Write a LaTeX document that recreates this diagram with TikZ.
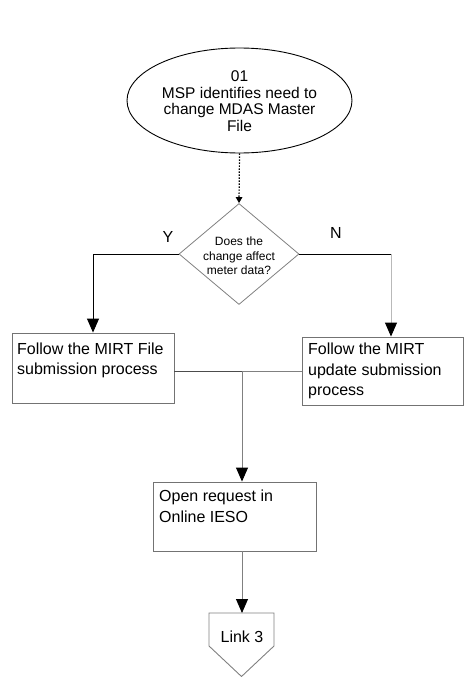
\documentclass[tikz,border=0pt]{standalone}
\usepackage{fontspec}
\setmainfont{Liberation Sans}
\usetikzlibrary{shapes.geometric,arrows.meta}
\begin{document}
\begin{tikzpicture}[x=1pt,y=-1pt,
  line/.style={line width=0.9pt},
  arr/.style={line, -{Triangle[length=14pt,width=12pt,black]}},
  procbox/.style={draw=black!55, line width=0.9pt, inner sep=0pt},
  boxtext/.style={font=\fontsize{16}{20.5}\selectfont, align=left, inner sep=0pt, anchor=base west},
  lbl/.style={font=\fontsize{16}{18}\selectfont, inner sep=0pt}
]
\useasboundingbox (0,0) rectangle (463,677);

% start ellipse
\node[draw, ellipse, line width=0.9pt, minimum width=225pt, minimum height=105pt, inner sep=0pt] (ell) at (239.5,100.5) {};
\node[align=center, font=\fontsize{15.5}{16.6}\selectfont, inner sep=0pt] (elltext) at (239.5,101) {01\\MSP identifies need to\\change MDAS Master\\File};

% decision
\node[diamond, draw=gray, line width=0.8pt, minimum width=120pt, minimum height=101pt, inner sep=0pt] (dia) at (239,254) {};
\node[align=center, font=\fontsize{12}{14.5}\selectfont, inner sep=0pt] (diatext) at (239,256) {Does the\\change affect\\meter data?};

\draw[line width=1.2pt, dash pattern=on 1.5pt off 1.5pt, -{Triangle[length=6pt,width=6.5pt]}] (ell.south) -- (dia.north);

% process boxes
\node[procbox, minimum width=162pt, minimum height=70pt] (lbox) at (93,368) {};
\node[boxtext] (ltext) at (17,374.5) {Follow the MIRT File\\submission process};

\node[procbox, minimum width=161.5pt, minimum height=68pt] (rbox) at (382.8,371) {};
\node[boxtext] (rtext) at (308,395.5) {Follow the MIRT\\update submission\\process};

\node[procbox, minimum width=163pt, minimum height=69pt] (open) at (234.5,516.5) {};
\node[boxtext] (otext) at (159,522) {Open request in\\Online IESO};

% labels
\node[lbl] (ylab) at (168,237) {Y};
\node[lbl] (nlab) at (336,233) {N};

% branches
\draw[arr] (dia.west) -| (lbox.north);
\coordinate (nc) at (391,254);
\draw[line] (dia.east) -- (nc);
\draw[arr, draw=gray!55] (nc) -- (nc |- rbox.north);

% junction
\coordinate (j) at (242,371);
\draw[line, draw=black!70] (lbox.east |- j) -- (j);
\draw[line, draw=gray] (j) -- (rbox.west |- j);
\draw[arr, draw=gray] (j) -- (j |- open.north);

% off-page connector
\coordinate (linktop) at (242,613);
\draw[line, draw=gray] (209,613) -- (274,613) -- (274,646) -- (241.5,676.5) -- (209,646) -- cycle;
\node[lbl] (link) at (242,637) {Link 3};
\draw[arr, draw=gray] (j |- open.south) -- (linktop);
\end{tikzpicture}
\end{document}
